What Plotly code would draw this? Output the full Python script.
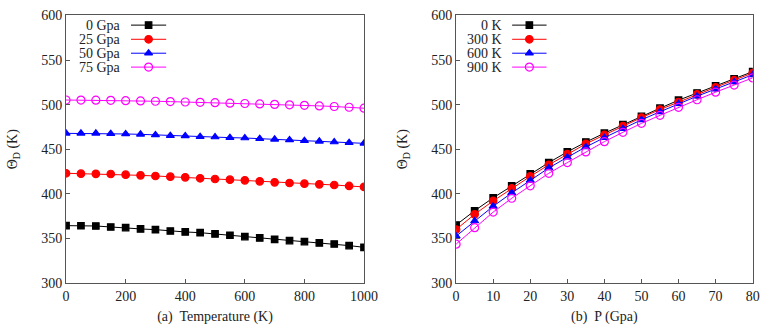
import plotly.graph_objects as go
from plotly.subplots import make_subplots

# (a) Debye temperature vs temperature, at fixed pressure
temperature = list(range(0, 1001, 50))
theta_0gpa = [364.3, 364.2, 363.9, 362.8, 362.1, 360.6, 359.8, 358.3, 357.2, 356.4, 355.0,
              353.5, 352.0, 350.5, 349.0, 347.5, 346.4, 344.9, 343.7, 341.9, 340.0]
theta_25gpa = [423.0, 422.6, 422.4, 422.2, 421.5, 420.7, 420.0, 419.2, 418.5, 417.4, 416.6,
               415.9, 415.1, 414.0, 412.9, 412.1, 411.4, 410.6, 409.9, 408.8, 407.7]
theta_50gpa = [467.8, 467.8, 467.8, 467.5, 467.1, 466.7, 466.0, 465.2, 464.9, 464.1, 463.7,
               463.0, 462.6, 461.9, 461.1, 460.4, 459.6, 458.9, 458.1, 457.4, 456.6]
theta_75gpa = [505.2, 505.1, 505.0, 504.8, 504.5, 504.2, 503.8, 503.4, 503.0, 502.6, 502.2,
               501.7, 501.3, 500.8, 500.3, 499.8, 499.2, 498.6, 497.9, 497.1, 496.0]

# (b) Debye temperature vs pressure, at fixed temperature
pressure = list(range(0, 81, 5))
theta_0k = [365, 381, 395.5, 409, 422.5, 435, 447, 458, 468, 477.5, 487, 496, 505, 513, 521, 529, 537]
theta_300k = [360, 377, 392, 406, 419.5, 432.5, 444.5, 456, 466, 476, 485.5, 494.5, 503, 511.5, 519.5, 527.5, 535.5]
theta_600k = [352.5, 369.5, 386, 401, 415, 429, 441, 452.5, 463, 473, 483, 492, 501, 509.5, 517.5, 525.5, 533.5]
theta_900k = [343.5, 362, 379.5, 395, 409, 423, 435, 447, 458.5, 469, 479, 488, 497, 505.5, 514, 522, 530]

left_names = ['0 Gpa', '25 Gpa', '50 Gpa', '75 Gpa']
right_names = ['0 K', '300 K', '600 K', '900 K']

colors = ['black', 'red', 'blue', 'magenta']
symbols = ['square', 'circle', 'triangle-up', 'circle-open']
sizes = [6.5, 7.5, 7, 8]

fig = make_subplots(rows=1, cols=2)

def marker(i):
    return dict(symbol=symbols[i], size=sizes[i], color=colors[i],
                line=dict(color=colors[i], width=1.2))

for i, ys in enumerate([theta_0gpa, theta_25gpa, theta_50gpa, theta_75gpa]):
    fig.add_trace(go.Scatter(x=temperature, y=ys, mode='lines+markers', name=left_names[i],
                             line=dict(color=colors[i], width=1), marker=marker(i),
                             showlegend=False), row=1, col=1)

for i, ys in enumerate([theta_0k, theta_300k, theta_600k, theta_900k]):
    fig.add_trace(go.Scatter(x=pressure, y=ys, mode='lines+markers', name=right_names[i],
                             line=dict(color=colors[i], width=1), marker=marker(i),
                             showlegend=False), row=1, col=2)

# hand-made legends (text on the left, key on the right like the original)
legend_rows = [0.964, 0.911, 0.859, 0.807]
legend_boxes = [('x3', 'y3', 0.191, 0.218, 0.336, left_names),
                ('x4', 'y4', 0.161, 0.189, 0.305, right_names)]
for xr, yr, text_x, x0, x1, names in legend_boxes:
    for i, name in enumerate(names):
        yv = legend_rows[i]
        fig.add_trace(go.Scatter(x=[x0, x1], y=[yv, yv], mode='lines', xaxis=xr, yaxis=yr,
                                 line=dict(color=colors[i], width=1), showlegend=False,
                                 hoverinfo='skip'))
        fig.add_trace(go.Scatter(x=[(x0 + x1) / 2], y=[yv], mode='markers', xaxis=xr, yaxis=yr,
                                 marker=marker(i), showlegend=False, hoverinfo='skip'))
        fig.add_annotation(x=text_x, y=yv, xref=xr, yref=yr, text=name, showarrow=False,
                           xanchor='right', yanchor='middle',
                           font=dict(family='Liberation Serif, Times New Roman, serif',
                                     size=14, color='#222222'))

font = dict(family='Liberation Serif, Times New Roman, serif', size=14, color='#222222')
axis_style = dict(showline=True, mirror=True, linecolor='#555555', linewidth=1,
                  ticks='inside', ticklen=4, tickcolor='#555555',
                  showgrid=False, zeroline=False, tickfont=font, automargin=False)
dom_x1 = [0.085, 0.4685]
dom_x2 = [0.587, 0.9687]
dom_y = [0.132, 0.9525]
overlay = dict(range=[0, 1], visible=False, fixedrange=True)

fig.update_layout(
    width=777, height=326,
    margin=dict(l=0, r=0, t=0, b=0),
    plot_bgcolor='white', paper_bgcolor='white',
    font=font,
    xaxis=dict(domain=dom_x1, range=[0, 1000], dtick=200,
               title=dict(text='(a)  Temperature (K)', font=font, standoff=8), **axis_style),
    xaxis2=dict(domain=dom_x2, range=[0, 80], dtick=10,
                title=dict(text='(b)  P (Gpa)', font=font, standoff=8), **axis_style),
    yaxis=dict(domain=dom_y, range=[300, 600], dtick=50,
               title=dict(text='Θ<sub>D</sub> (K)', font=font, standoff=20), **axis_style),
    yaxis2=dict(domain=dom_y, range=[300, 600], dtick=50,
                title=dict(text='Θ<sub>D</sub> (K)', font=font, standoff=20), **axis_style),
    xaxis3=dict(overlaying='x', anchor='y3', **overlay),
    yaxis3=dict(overlaying='y', anchor='x3', **overlay),
    xaxis4=dict(overlaying='x2', anchor='y4', **overlay),
    yaxis4=dict(overlaying='y2', anchor='x4', **overlay),
)

fig.write_html("out.html", config={'displayModeBar': False},
               post_script="document.body.style.margin='0';")
